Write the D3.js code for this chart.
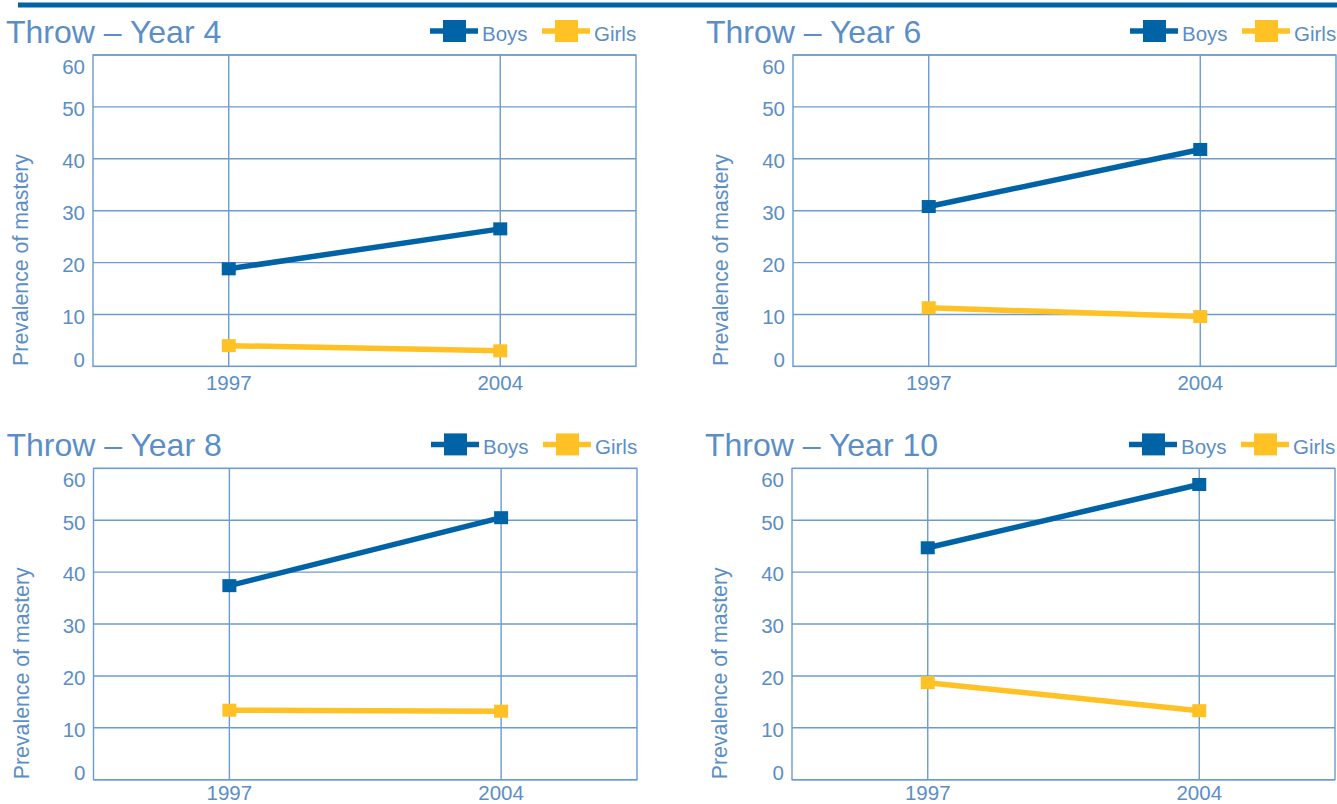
<!DOCTYPE html>
<html><head><meta charset="utf-8">
<script src="https://cdn.jsdelivr.net/npm/d3@7"></script>
<style>html,body{margin:0;padding:0;background:#fff;}svg{display:block;}</style>
</head><body>
<script>
const years = ["1997", "2004"];
const yTicks = [0, 10, 20, 30, 40, 50, 60];
const panelTitles = ["Throw – Year 4", "Throw – Year 6", "Throw – Year 8", "Throw – Year 10"];
const boys  = [[18.8, 26.5], [30.8, 41.8], [37.4, 50.5], [44.7, 56.9]];
const girls = [[4.0, 3.0],  [11.3, 9.6],  [13.4, 13.2], [18.7, 13.3]];
const seriesNames = ["Boys", "Girls"];
const yLabel = "Prevalence of mastery";

const W = 1337, H = 804;
const C_TEXT = "#5b8ec7", C_GRID = "#6c9bd0", C_BOYS = "#0063a6", C_GIRLS = "#ffc124";
const FONT = "'Liberation Sans', Arial, sans-serif";

const svg = d3.select("body").append("svg").attr("width", W).attr("height", H);

svg.append("line").attr("x1", 18).attr("x2", W).attr("y1", 5).attr("y2", 5)
  .attr("stroke", C_BOYS).attr("stroke-width", 5);

const panels = [
  {x0: 93, x1: 636, top: 55, bottom: 366.4},
  {x0: 793, x1: 1336, top: 55, bottom: 366.4},
  {x0: 93.5, x1: 637, top: 468.4, bottom: 779.7},
  {x0: 792, x1: 1335, top: 468.4, bottom: 779.7}
];

panels.forEach((p, i) => {
  const g = svg.append("g");
  const x = d3.scaleBand().domain(years).range([p.x0, p.x1]).padding(0);
  const xc = d => x(d) + x.bandwidth() / 2;
  const y = d3.scaleLinear().domain([0, 60]).range([p.bottom, p.top]);

  // grid
  g.selectAll(".hg").data(yTicks).join("line")
    .attr("x1", p.x0).attr("x2", p.x1).attr("y1", d => y(d)).attr("y2", d => y(d))
    .attr("stroke", C_GRID).attr("stroke-width", 1.4);
  g.selectAll(".vg").data(years).join("line")
    .attr("x1", d => xc(d)).attr("x2", d => xc(d)).attr("y1", p.top).attr("y2", p.bottom)
    .attr("stroke", C_GRID).attr("stroke-width", 1.4);
  g.append("rect").attr("x", p.x0).attr("y", p.top).attr("width", p.x1 - p.x0).attr("height", p.bottom - p.top)
    .attr("fill", "none").attr("stroke", C_GRID).attr("stroke-width", 1.4);

  // y tick labels
  g.selectAll(".yl").data(yTicks).join("text")
    .attr("x", p.x0 - 8)
    .attr("y", d => Math.max(p.top + 11.5, Math.min(p.bottom - 7, y(d) + 2)) + 7.3)
    .attr("text-anchor", "end").attr("fill", C_TEXT)
    .style("font-family", FONT).style("font-size", "20.5px")
    .text(d => d);

  // x tick labels
  g.selectAll(".xl").data(years).join("text")
    .attr("x", d => xc(d)).attr("y", Math.min(p.bottom + 23.5, H - 4.5))
    .attr("text-anchor", "middle").attr("fill", C_TEXT)
    .style("font-family", FONT).style("font-size", "20.5px")
    .text(d => d);

  // y axis label
  g.append("text")
    .attr("transform", `translate(${p.x0 - 65},${p.bottom - 0.5}) rotate(-90)`)
    .attr("text-anchor", "start").attr("fill", C_TEXT)
    .style("font-family", FONT).style("font-size", "21.3px")
    .text(yLabel);

  // title
  g.append("text")
    .attr("x", p.x0 - 87).attr("y", p.top - 12.5)
    .attr("fill", C_TEXT)
    .style("font-family", FONT).style("font-size", "32px")
    .text(panelTitles[i]);

  // series
  const series = [
    {vals: boys[i], color: C_BOYS},
    {vals: girls[i], color: C_GIRLS}
  ];
  const line = d3.line().x(d => xc(d.year)).y(d => y(d.v));
  series.forEach(s => {
    const pts = years.map((yr, j) => ({year: yr, v: s.vals[j]}));
    g.append("path").datum(pts).attr("d", line)
      .attr("fill", "none").attr("stroke", s.color).attr("stroke-width", 5.5);
    g.selectAll(null).data(pts).join("rect")
      .attr("x", d => xc(d.year) - 7).attr("y", d => y(d.v) - 6.5)
      .attr("width", 14).attr("height", 13).attr("fill", s.color);
  });

  // legend
  const ly = p.top - 24;
  const legendItems = [
    {name: seriesNames[0], color: C_BOYS, lx: p.x1 - 206},
    {name: seriesNames[1], color: C_GIRLS, lx: p.x1 - 94}
  ];
  legendItems.forEach(it => {
    g.append("line").attr("x1", it.lx).attr("x2", it.lx + 48).attr("y1", ly).attr("y2", ly)
      .attr("stroke", it.color).attr("stroke-width", 5.5);
    g.append("rect").attr("x", it.lx + 13).attr("y", ly - 11).attr("width", 23).attr("height", 22)
      .attr("fill", it.color);
    g.append("text").attr("x", it.lx + 52).attr("y", ly + 10)
      .attr("fill", C_TEXT).style("font-family", FONT).style("font-size", "20.5px")
      .text(it.name);
  });
});
</script>
</body></html>
